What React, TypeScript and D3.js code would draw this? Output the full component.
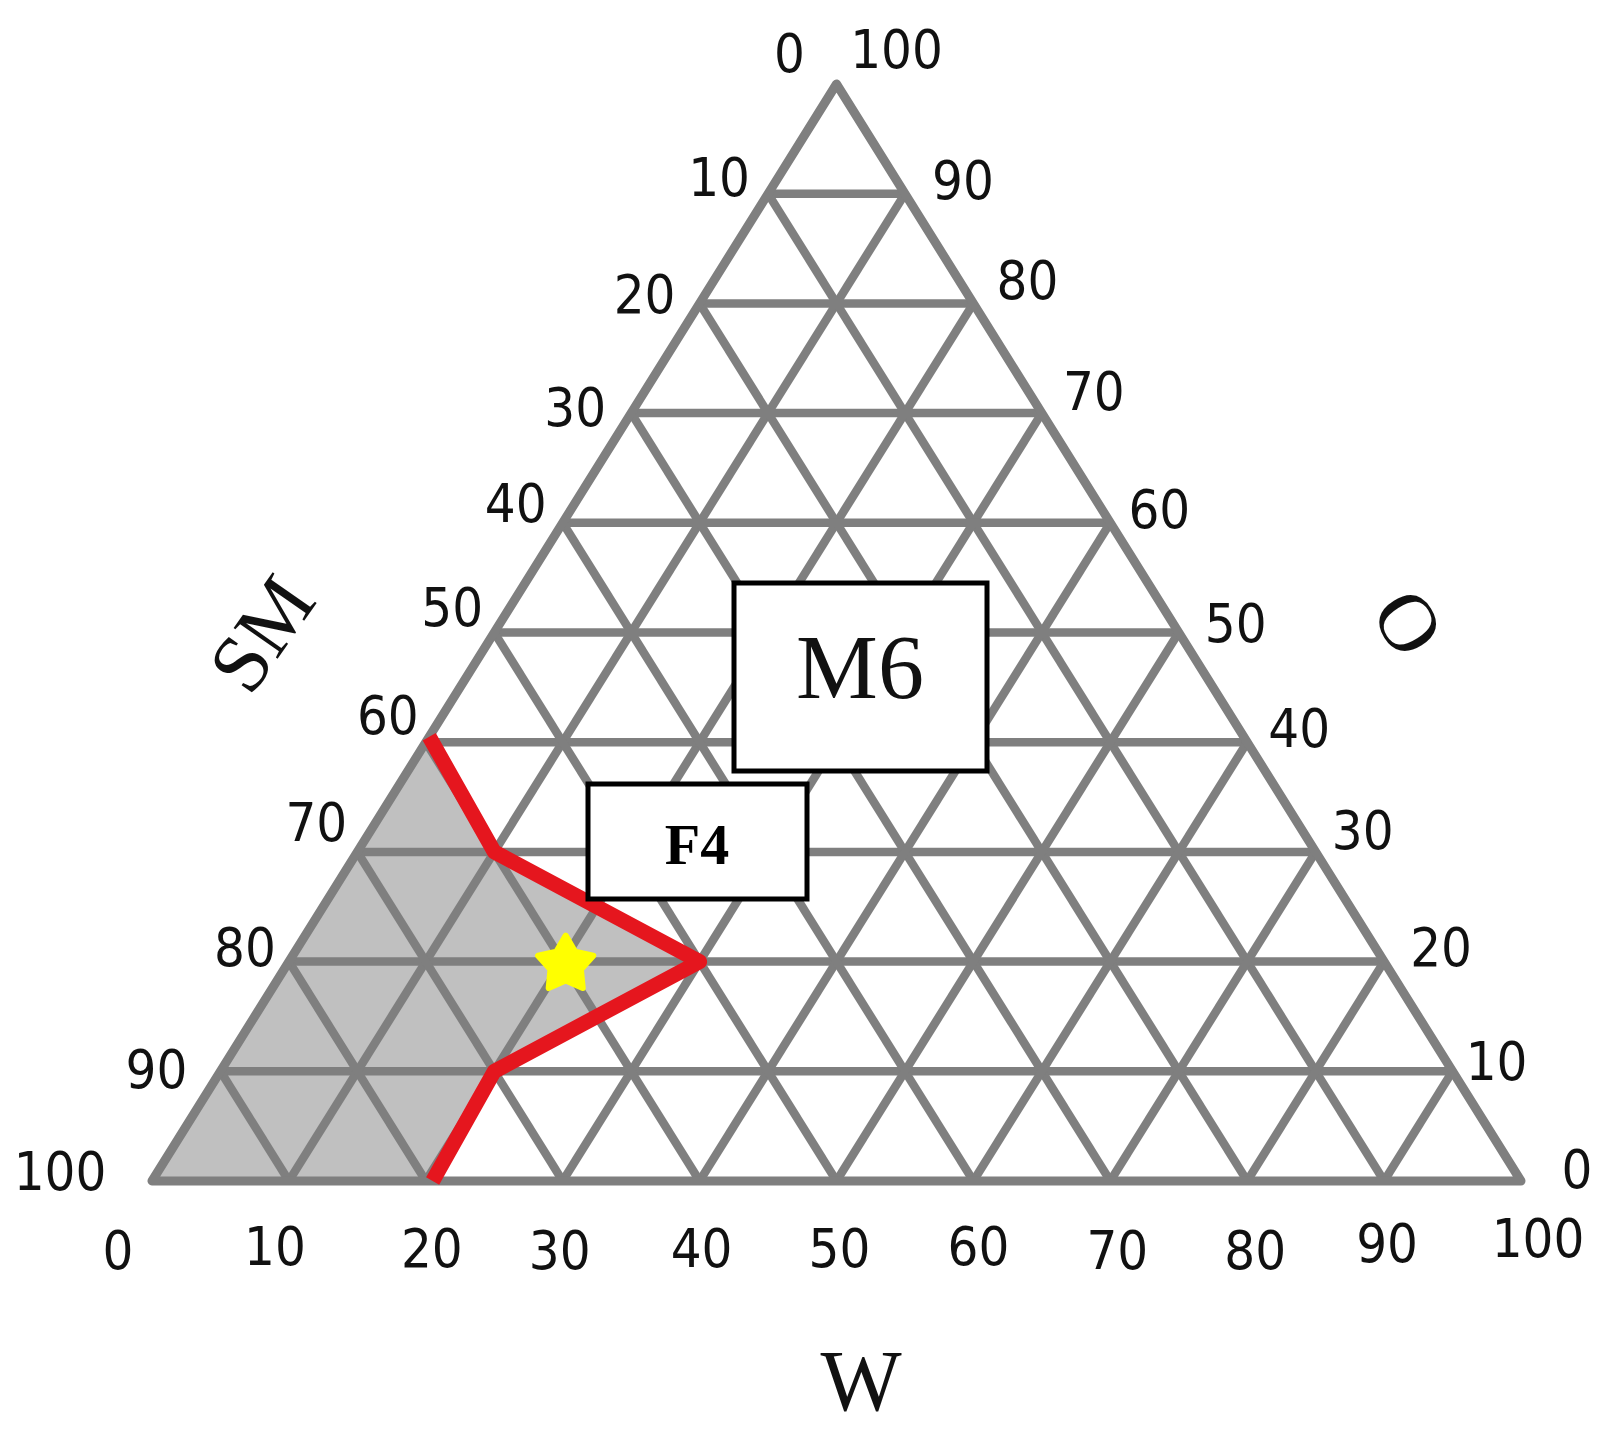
import React, { useEffect } from "react";
import * as d3 from "d3";

// ---- data ----
const ticks = [0, 10, 20, 30, 40, 50, 60, 70, 80, 90, 100];
const smLabels = ["0", "10", "20", "30", "40", "50", "60", "70", "80", "90", "100"]; // left axis, top -> bottom
const oLabels = ["100", "90", "80", "70", "60", "50", "40", "30", "20", "10", "0"]; // right axis, top -> bottom
const wLabels = ["0", "10", "20", "30", "40", "50", "60", "70", "80", "90", "100"]; // bottom axis

// boundary of the microemulsion region (W %, O %)
const boundaryW = [0, 10, 30, 20, 20.5];
const boundaryO = [40.5, 30, 20, 10, 0];

// optimized formulation (star)
const starW = [20];
const starO = [20];

// ---- layout (label nudges in px, relative to the tick point) ----
const leftNudge: [number, number][] = [
  [-47, -31], [-49, -17], [-55, -10], [-56, -7], [-47, -20], [-42, -26],
  [-38, -28], [-41, -30], [-44, -15], [-64, -3], [-92, -10],
];
const rightNudge: [number, number][] = [
  [60, -35], [58, -14], [54, -24], [52, -23], [49, -14], [57, -10],
  [52, -15], [47, -22], [57, -15], [44, -11], [56, -12],
];
const bottomNudge: [number, number][] = [
  [-34, 69], [-14, 65], [6, 67], [-3, 69], [2, 67], [3, 67],
  [5, 65], [7, 69], [8, 69], [3, 62], [17, 57],
];

const W_ = 1611;
const H_ = 1430;

export default function App() {
  useEffect(() => {
    document.body.style.margin = "0";
  }, []);

  const xs = d3.scaleLinear().domain([0, 100]).range([152, 1521]);
  const ys = d3.scaleLinear().domain([0, 100]).range([1181, 84]);
  const pt = (w: number, o: number): [number, number] => [xs(w + o / 2), ys(o)];

  const grey = "#7f7f7f";
  const line = d3.line<[number, number]>();

  // grid lines
  const grid: [number, number][][] = [];
  ticks.slice(1, -1).forEach((v) => {
    grid.push([pt(0, v), pt(100 - v, v)]); // constant O
    grid.push([pt(v, 0), pt(v, 100 - v)]); // constant W
    grid.push([pt(100 - v, 0), pt(0, 100 - v)]); // constant SM
  });

  const boundary: [number, number][] = boundaryW.map((w, i) => pt(w, boundaryO[i]));
  const shaded: [number, number][] = [pt(0, 0), ...boundary.slice().reverse(), pt(0, boundaryO[0])];

  const outline: [number, number][] = [pt(0, 0), pt(100, 0), pt(0, 100)];

  const labelFont = {
    fontFamily: "'DejaVu Sans', Verdana, sans-serif",
    fontStretch: "condensed" as const,
    fontSize: 54,
    fill: "#111",
  };
  const serif = "'Liberation Serif', 'Times New Roman', serif";

  // rounded five-point star
  const starPts: [number, number][] = d3.range(10).map((k) => [
    (k * Math.PI) / 5,
    k % 2 === 0 ? 29 : 16,
  ]);
  const star = d3.lineRadial().curve(d3.curveLinearClosed)(starPts);

  return (
    <svg
      width={W_}
      height={H_}
      style={{ position: "absolute", left: 0, top: 0, background: "#fff" }}
    >
      <rect x={0} y={0} width={W_} height={H_} fill="#fff" />
      <path d={line(shaded) + "Z"} fill="#c0c0c0" />
      {grid.map((g, i) => (
        <path key={i} d={line(g)!} stroke={grey} strokeWidth={8.5} fill="none" />
      ))}
      <path
        d={line(outline) + "Z"}
        stroke={grey}
        strokeWidth={9}
        fill="none"
        strokeLinejoin="round"
      />
      <path
        d={line(boundary)!}
        stroke="#e5161e"
        strokeWidth={15}
        fill="none"
        strokeLinejoin="round"
      />
      {starW.map((w, i) => {
        const [x, y] = pt(w, starO[i]);
        return (
          <path
            key={i}
            d={star!}
            transform={`translate(${x + 3},${y + 3})`}
            fill="#ffff00"
            stroke="#ffff00"
            strokeWidth={6}
            strokeLinejoin="round"
          />
        );
      })}

      {/* annotation boxes */}
      <rect x={734} y={583} width={253} height={188} fill="#fff" stroke="#000" strokeWidth={5} />
      <text x={860} y={698} textAnchor="middle" fontFamily={serif} fontSize={92} fill="#111">
        M6
      </text>
      <rect x={588} y={784} width={219} height={115} fill="#fff" stroke="#000" strokeWidth={5} />
      <text
        x={697}
        y={864}
        textAnchor="middle"
        fontFamily={serif}
        fontWeight="bold"
        fontSize={58}
        fill="#000"
      >
        F4
      </text>

      {/* left axis labels (SM) */}
      {smLabels.map((l, i) => {
        const o = 100 - ticks[i];
        const [x, y] = pt(0, o);
        return (
          <text
            key={"l" + i}
            x={x + leftNudge[i][0]}
            y={y + leftNudge[i][1]}
            textAnchor="middle"
            dy="0.36em"
            {...labelFont}
          >
            {l}
          </text>
        );
      })}
      {/* right axis labels (O) */}
      {oLabels.map((l, i) => {
        const o = 100 - ticks[i];
        const [x, y] = pt(100 - o, o);
        return (
          <text
            key={"r" + i}
            x={x + rightNudge[i][0]}
            y={y + rightNudge[i][1]}
            textAnchor="middle"
            dy="0.36em"
            {...labelFont}
          >
            {l}
          </text>
        );
      })}
      {/* bottom axis labels (W) */}
      {wLabels.map((l, i) => {
        const [x, y] = pt(ticks[i], 0);
        return (
          <text
            key={"b" + i}
            x={x + bottomNudge[i][0]}
            y={y + bottomNudge[i][1]}
            textAnchor="middle"
            dy="0.36em"
            {...labelFont}
          >
            {l}
          </text>
        );
      })}

      {/* axis titles */}
      <text
        transform="translate(262,634) rotate(-55)"
        textAnchor="middle"
        dy="0.33em"
        fontFamily={serif}
        fontSize={82}
        fill="#111"
      >
        SM
      </text>
      <text
        transform="translate(1408,623) rotate(58)"
        textAnchor="middle"
        dy="0.33em"
        fontFamily={serif}
        fontSize={82}
        fill="#111"
      >
        O
      </text>
      <text x={861} y={1410} textAnchor="middle" fontFamily={serif} fontSize={86} fill="#111">
        W
      </text>
    </svg>
  );
}
